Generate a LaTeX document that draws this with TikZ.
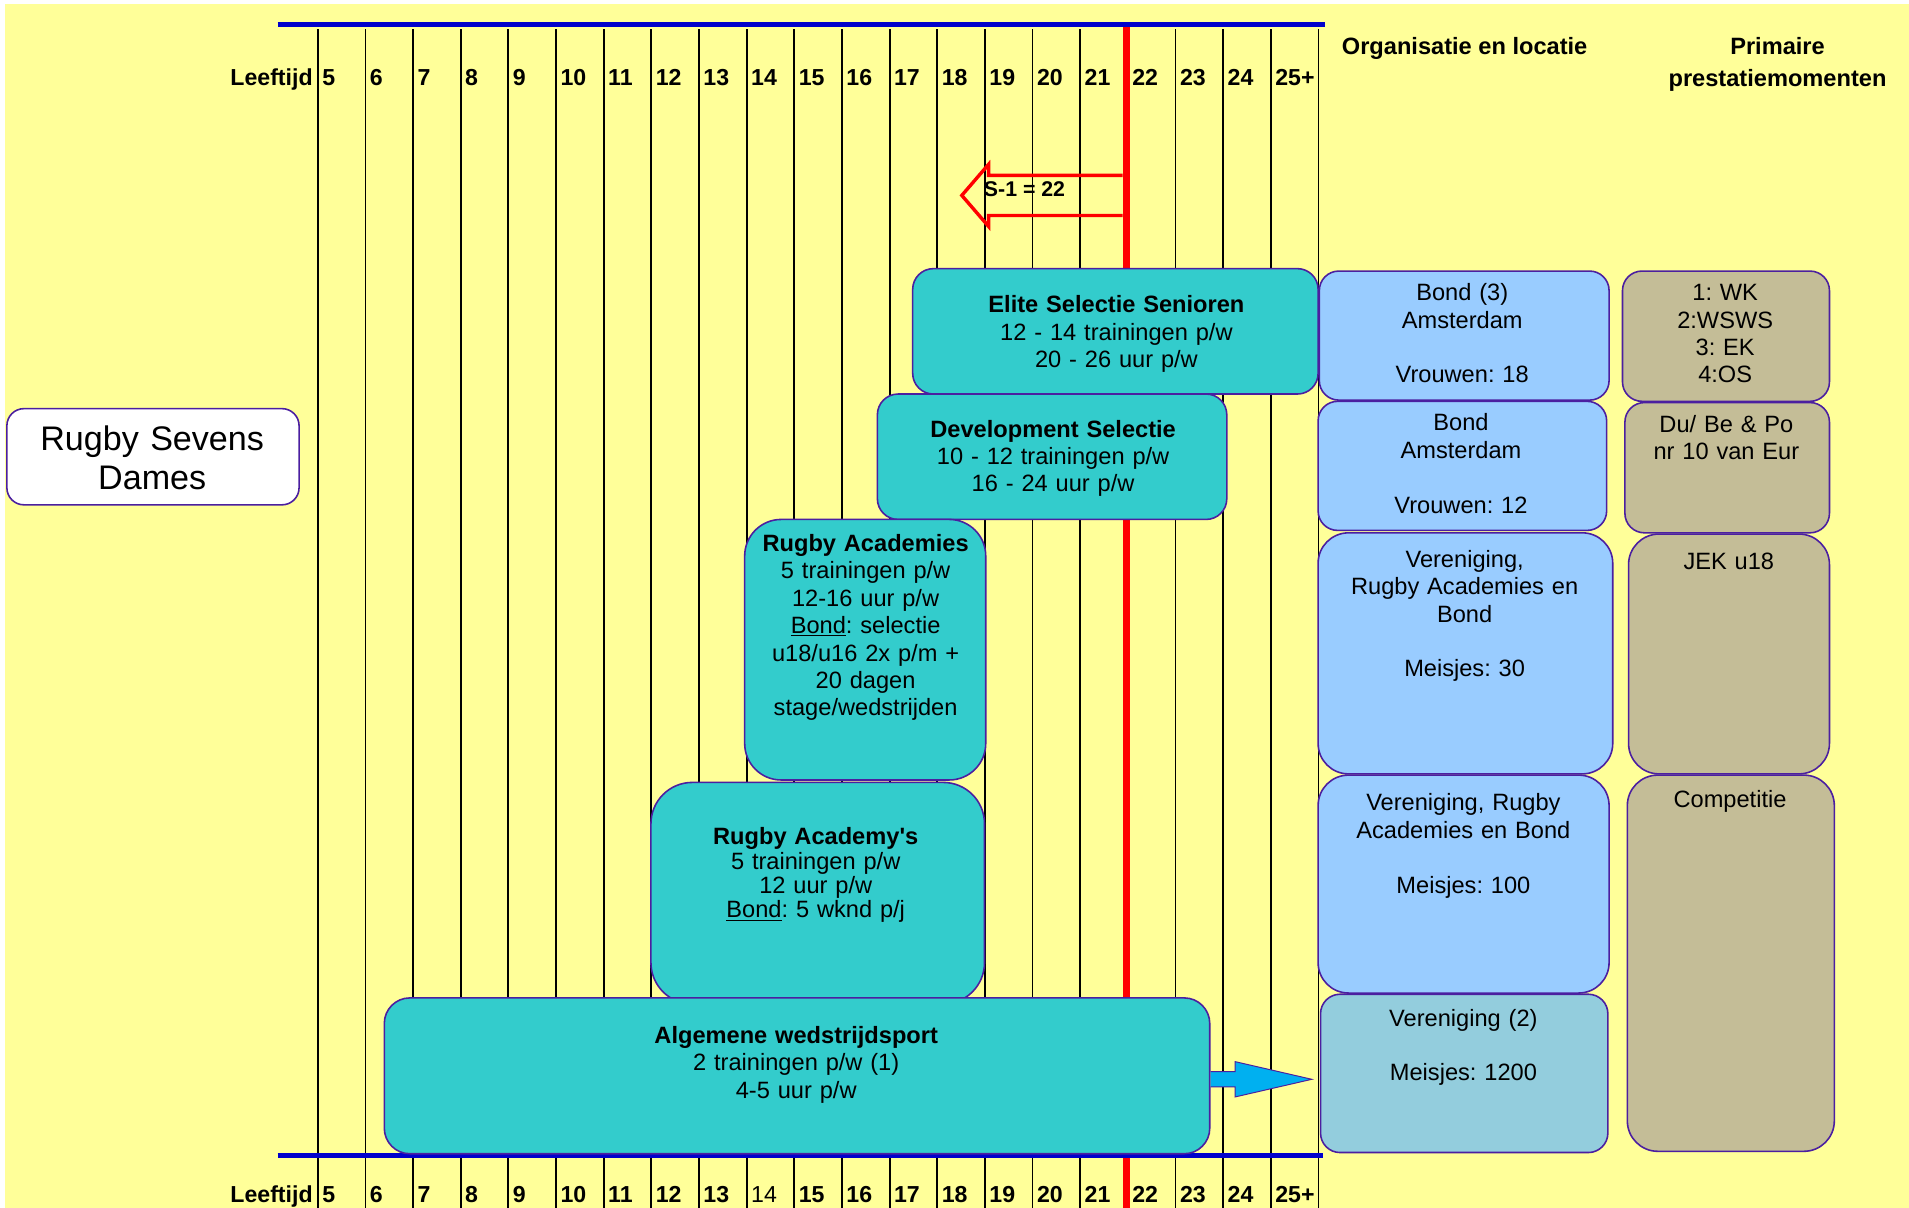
\documentclass[tikz,border=0pt]{standalone}
\usepackage{fontspec}
\setmainfont{Liberation Sans}[Ligatures=TeXOff]
\usetikzlibrary{calc}
\frenchspacing
\definecolor{bgyellow}{HTML}{FFFF99}
\definecolor{tealbox}{HTML}{33CCCC}
\definecolor{lbluebox}{HTML}{99CCFF}
\definecolor{aquabox}{HTML}{93CDDD}
\definecolor{tanbox}{HTML}{C4BD97}
\definecolor{bordercol}{HTML}{4B1FA0}
\definecolor{blueline}{HTML}{0000CC}
\definecolor{arrowblue}{HTML}{00B0F0}
\newcommand\bodyfont{\fontsize{19.4}{22.5}\selectfont}
\tikzset{
  gridline/.style={line width=1.5pt, black},
  axisline/.style={line width=4pt, blueline},
  lbl/.style={font=\fontsize{19}{22}\selectfont\bfseries, inner sep=0pt},
  lblreg/.style={font=\fontsize{19}{22}\selectfont, inner sep=0pt},
  roundbox/.style={draw=bordercol, line width=1.3pt, rounded corners=#1, inner sep=0pt, anchor=north west},
  txt/.style={align=center, text width=#1, anchor=base, inner sep=0pt, font=\bodyfont},
}
\begin{document}
\frenchspacing
\begin{tikzpicture}[x=1pt,y=-1pt]
\useasboundingbox (0,0) rectangle (1568,992);
\fill[white] (0,0) rectangle (1568,992);
\fill[bgyellow] (4,3) rectangle (1568,992);
% grid
\foreach \k in {0,...,21} {
  \draw[gridline] ({261+39.14*\k},24) -- ({261+39.14*\k},992);
}
% red line
\draw[line width=6pt, red] (925.5,20) -- (925.5,992);
% blue axis lines
\draw[axisline] (228,20) -- (1088,20);
\draw[axisline] (228,949) -- (1087,949);
% labels
\node[lbl, anchor=base east] (leeftop) at (257,70) {Leeftijd};
\node[lbl, anchor=base east] (leefbot) at (257,988) {Leeftijd};
\foreach \k/\t in {0/5,1/6,2/7,3/8,4/9,5/10,6/11,7/12,8/13,9/14,10/15,11/16,12/17,13/18,14/19,15/20,16/21,17/22,18/23,19/24,20/25+} {
  \node[lbl, anchor=base west] (top\k) at ({261+39.14*\k+3.5},70) {\t};
}
\foreach \k/\t in {0/5,1/6,2/7,3/8,4/9,5/10,6/11,7/12,8/13,10/15,11/16,12/17,13/18,14/19,15/20,16/21,17/22,18/23,19/24,20/25+} {
  \node[lbl, anchor=base west] (bot\k) at ({261+39.14*\k+3.5},988) {\t};
}
\node[lblreg, anchor=base west] (bot9) at ({261+39.14*9+3.5},988) {14};
% headers
\node[lbl, anchor=base, font=\bodyfont\bfseries] (orgH) at (1203,45) {Organisatie en locatie};
\node[txt=250pt, font=\bodyfont\bfseries] (primH) at (1460,45) {Primaire\\[3.5pt]prestatiemomenten};
% S-1 arrow
\draw[red, line width=2.8pt, line join=miter] (922,144) -- (812,144) -- (812,135) -- (790,160.5) -- (812,186) -- (812,177) -- (922,177);
\node[lbl, anchor=base west, font=\fontsize{17.5}{20}\selectfont\bfseries] (s1) at (808,161) {S-1 = 22};
% title box
\node[roundbox=14pt, fill=white, minimum width=240pt, minimum height=79pt] (title) at (5,335) {};
\node[txt=235pt, font=\fontsize{28}{32}\selectfont] (titleT) at (125,370) {Rugby Sevens\\Dames};
% teal boxes
\node[roundbox=17pt, fill=tealbox, minimum width=333pt, minimum height=103pt] (elite) at (749,220) {};
\node[txt=320pt] (eliteT) at (917,257) {\textbf{Elite Selectie Senioren}\\12 - 14 trainingen p/w\\20 - 26 uur p/w};
\node[roundbox=17pt, fill=tealbox, minimum width=287pt, minimum height=103pt] (dev) at (720,323) {};
\node[txt=280pt] (devT) at (865,359) {\textbf{Development Selectie}\\10 - 12 trainingen p/w\\16 - 24 uur p/w};
\node[roundbox=30pt, fill=tealbox, minimum width=198pt, minimum height=214pt] (acad) at (611,426) {};
\node[txt=195pt] (acadT) at (711,453) {\textbf{Rugby Academies}\\5 trainingen p/w\\12-16 uur p/w\\\underline{Bond}: selectie\\u18/u16 2x p/m +\\20 dagen\\stage/wedstrijden};
\node[roundbox=34pt, fill=tealbox, minimum width=274pt, minimum height=182pt] (acys) at (534,642) {};
\node[txt=260pt, font=\fontsize{19.4}{20}\selectfont] (acysT) at (670,694) {\textbf{Rugby Academy's}\\5 trainingen p/w\\12 uur p/w\\\underline{Bond}: 5 wknd p/j};
\node[roundbox=21pt, fill=tealbox, minimum width=678pt, minimum height=128pt] (alg) at (315,819) {};
\node[txt=600pt] (algT) at (654,857) {\textbf{Algemene wedstrijdsport}\\2 trainingen p/w (1)\\4-5 uur p/w};
% light blue boxes
\node[roundbox=16pt, fill=lbluebox, minimum width=238pt, minimum height=106pt] (orgA) at (1083,222) {};
\node[txt=230pt] (orgAT) at (1201,247) {Bond (3)\\Amsterdam\\[22.5pt]Vrouwen: 18};
\node[roundbox=16pt, fill=lbluebox, minimum width=237pt, minimum height=106pt] (orgB) at (1082,329) {};
\node[txt=230pt] (orgBT) at (1200,354) {Bond\\Amsterdam\\[22.5pt]Vrouwen: 12};
\node[roundbox=25pt, fill=lbluebox, minimum width=242pt, minimum height=198pt] (orgC) at (1082,437) {};
\node[txt=235pt] (orgCT) at (1203,466) {Vereniging,\\Rugby Academies en\\Bond\\[22.5pt]Meisjes: 30};
\node[roundbox=25pt, fill=lbluebox, minimum width=239pt, minimum height=179pt] (orgD) at (1082,636) {};
\node[txt=235pt] (orgDT) at (1202,666) {Vereniging, Rugby\\Academies en Bond\\[22.5pt]Meisjes: 100};
\node[roundbox=16pt, fill=aquabox, minimum width=236pt, minimum height=130pt] (orgE) at (1084,816) {};
\node[txt=230pt] (orgET) at (1202,843) {Vereniging (2)\\[22pt]Meisjes: 1200};
% tan boxes
\node[roundbox=16pt, fill=tanbox, minimum width=170pt, minimum height=107pt] (perA) at (1332,222) {};
\node[txt=165pt] (perAT) at (1417,247) {1: WK\\2:WSWS\\3: EK\\4:OS};
\node[roundbox=16pt, fill=tanbox, minimum width=168pt, minimum height=107pt] (perB) at (1334,330) {};
\node[txt=165pt] (perBT) at (1418,355) {Du/ Be \& Po\\nr 10 van Eur};
\node[roundbox=25pt, fill=tanbox, minimum width=165pt, minimum height=197pt] (perC) at (1337,438) {};
\node[txt=160pt] (perCT) at (1420,468) {JEK u18};
\node[roundbox=25pt, fill=tanbox, minimum width=170pt, minimum height=309pt] (perD) at (1336,636) {};
\node[txt=165pt] (perDT) at (1421,663) {Competitie};
% blue arrow from alg to orgE
\coordinate (arrS) at (alg.east |- 0,886.5);
\coordinate (arrE) at (1077.5,886.5);
\filldraw[fill=arrowblue, draw=bordercol, line width=0.8pt, line join=miter]
  ($(arrS)+(0,-6.3)$) -- (1014.5,880.2) -- (1014.5,872) -- (arrE) -- (1014.5,901) -- (1014.5,892.8) -- ($(arrS)+(0,6.3)$);
\end{tikzpicture}
\end{document}
